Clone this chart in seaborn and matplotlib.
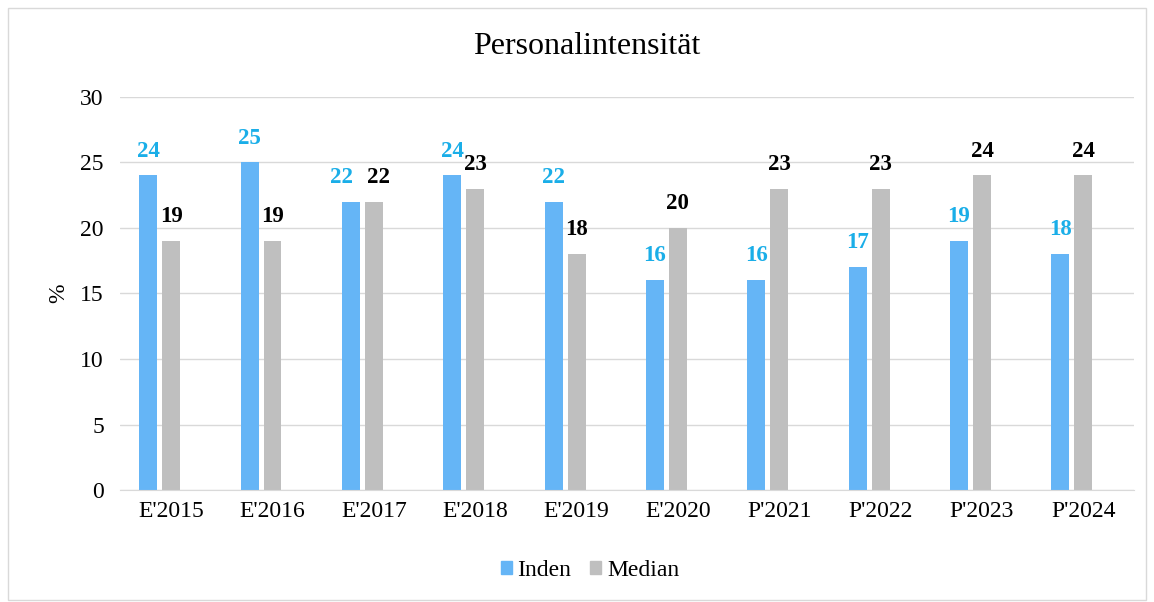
import matplotlib.pyplot as plt
import matplotlib.patches as mpatches
import seaborn as sns
import pandas as pd

kategorien = ["E'2015", "E'2016", "E'2017", "E'2018", "E'2019",
              "E'2020", "P'2021", "P'2022", "P'2023", "P'2024"]
inden = [24, 25, 22, 24, 22, 16, 16, 17, 19, 18]
median = [19, 19, 22, 23, 18, 20, 23, 23, 24, 24]
leer = [0] * len(kategorien)  # leere dritte Reihe wie im Excel-Original

df = pd.DataFrame({
    'jahr': kategorien * 3,
    'wert': inden + median + leer,
    'serie': ['Inden'] * 10 + ['Median'] * 10 + ['Leer'] * 10,
})

sns.set_style('white')
plt.rcParams['font.family'] = ['Liberation Serif', 'DejaVu Serif']
plt.rcParams['text.color'] = 'black'
plt.rcParams['xtick.color'] = 'black'
plt.rcParams['ytick.color'] = 'black'
plt.rcParams['axes.labelcolor'] = 'black'

blau = '#65B5F6'
grau = '#BFBFBF'

fig = plt.figure(figsize=(11.54, 6.02), dpi=100)
ax = fig.add_axes([120.5 / 1154, 0.186, 1013.5 / 1154, 0.6531])

sns.barplot(data=df, x='jahr', y='wert', hue='serie',
            hue_order=['Inden', 'Median', 'Leer'],
            palette={'Inden': blau, 'Median': grau, 'Leer': (1, 1, 1, 0)},
            width=0.68, gap=0.22, linewidth=0, saturation=1,
            ax=ax, legend=False)

# Datenbeschriftungen
lab_inden = ax.bar_label(ax.containers[0], fmt='%d', padding=10,
                         color='#1AAEE8', fontsize=16.5, fontweight='bold')
lab_median = ax.bar_label(ax.containers[1], fmt='%d', padding=10,
                          color='black', fontsize=16.5, fontweight='bold')
# gleiche Hoehe -> Beschriftungen auseinanderschieben (wie Excel)
for i in range(len(kategorien)):
    if abs(inden[i] - median[i]) < 1:
        lab_inden[i].xyann = (-6.5, 10)
        lab_median[i].xyann = (3.6, 10)

ax.set_ylim(0, 30)
ax.set_yticks(range(0, 31, 5))
ax.set_xlim(-0.5, 9.5)
ax.yaxis.grid(True, color='#D9D9D9', linewidth=1)
ax.set_axisbelow(True)
for s in ['top', 'right', 'left']:
    ax.spines[s].set_visible(False)
ax.spines['bottom'].set_color('#D9D9D9')
ax.tick_params(axis='both', length=0, labelsize=17)
ax.tick_params(axis='y', pad=12)
ax.tick_params(axis='x', pad=8)
ax.set_xlabel('')
ax.set_ylabel('%', fontsize=17, labelpad=8)

fig.text(587 / 1154, 1 - 47 / 602, 'Personalintensität', fontsize=23,
         ha='center', va='center')

handles = [mpatches.Patch(color=blau, label='Inden'),
           mpatches.Patch(color=grau, label='Median')]
fig.legend(handles=handles, loc='center', bbox_to_anchor=(590 / 1154, 0.053),
           ncol=2, frameon=False, fontsize=17, handlelength=0.47,
           handleheight=0.47, handletextpad=0.25, columnspacing=0.8)

fig.patches.append(mpatches.Rectangle((0.007, 0.003), 0.986, 0.984,
                                      transform=fig.transFigure, fill=False,
                                      edgecolor='#D9D9D9', linewidth=1))

plt.savefig('out.png', dpi=100)
